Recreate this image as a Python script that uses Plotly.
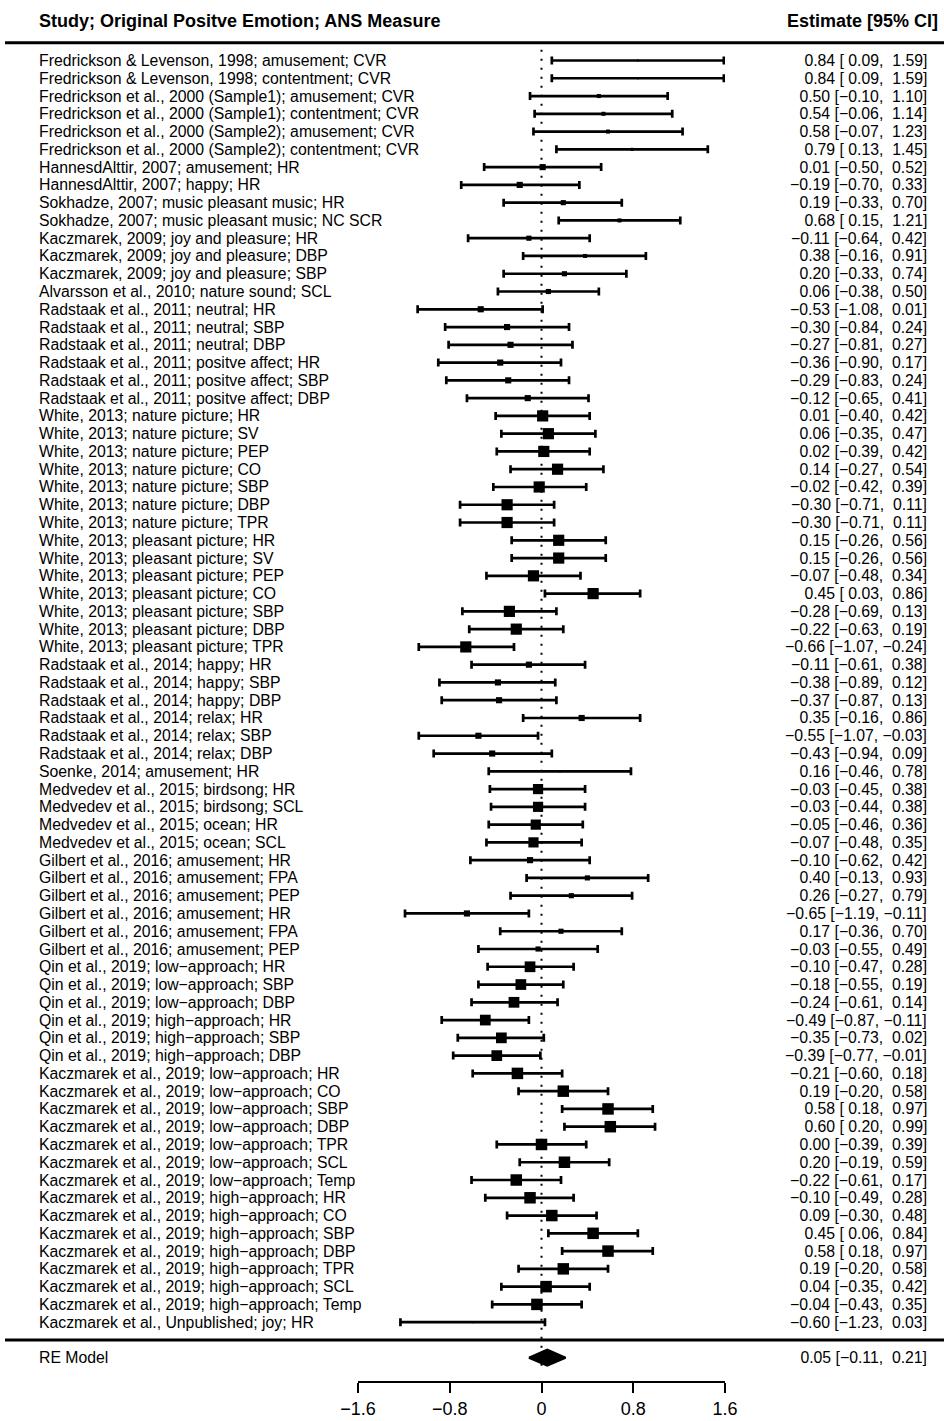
import plotly.graph_objects as go

# ---------------- data ----------------
studies = [
    "Fredrickson & Levenson, 1998; amusement; CVR",
    "Fredrickson & Levenson, 1998; contentment; CVR",
    "Fredrickson et al., 2000 (Sample1); amusement; CVR",
    "Fredrickson et al., 2000 (Sample1); contentment; CVR",
    "Fredrickson et al., 2000 (Sample2); amusement; CVR",
    "Fredrickson et al., 2000 (Sample2); contentment; CVR",
    "HannesdAlttir, 2007; amusement; HR",
    "HannesdAlttir, 2007; happy; HR",
    "Sokhadze, 2007; music pleasant music; HR",
    "Sokhadze, 2007; music pleasant music; NC SCR",
    "Kaczmarek, 2009; joy and pleasure; HR",
    "Kaczmarek, 2009; joy and pleasure; DBP",
    "Kaczmarek, 2009; joy and pleasure; SBP",
    "Alvarsson et al., 2010; nature sound; SCL",
    "Radstaak et al., 2011; neutral; HR",
    "Radstaak et al., 2011; neutral; SBP",
    "Radstaak et al., 2011; neutral; DBP",
    "Radstaak et al., 2011; positve affect; HR",
    "Radstaak et al., 2011; positve affect; SBP",
    "Radstaak et al., 2011; positve affect; DBP",
    "White, 2013; nature picture; HR",
    "White, 2013; nature picture; SV",
    "White, 2013; nature picture; PEP",
    "White, 2013; nature picture; CO",
    "White, 2013; nature picture; SBP",
    "White, 2013; nature picture; DBP",
    "White, 2013; nature picture; TPR",
    "White, 2013; pleasant picture; HR",
    "White, 2013; pleasant picture; SV",
    "White, 2013; pleasant picture; PEP",
    "White, 2013; pleasant picture; CO",
    "White, 2013; pleasant picture; SBP",
    "White, 2013; pleasant picture; DBP",
    "White, 2013; pleasant picture; TPR",
    "Radstaak et al., 2014; happy; HR",
    "Radstaak et al., 2014; happy; SBP",
    "Radstaak et al., 2014; happy; DBP",
    "Radstaak et al., 2014; relax; HR",
    "Radstaak et al., 2014; relax; SBP",
    "Radstaak et al., 2014; relax; DBP",
    "Soenke, 2014; amusement; HR",
    "Medvedev et al., 2015; birdsong; HR",
    "Medvedev et al., 2015; birdsong; SCL",
    "Medvedev et al., 2015; ocean; HR",
    "Medvedev et al., 2015; ocean; SCL",
    "Gilbert et al., 2016; amusement; HR",
    "Gilbert et al., 2016; amusement; FPA",
    "Gilbert et al., 2016; amusement; PEP",
    "Gilbert et al., 2016; amusement; HR",
    "Gilbert et al., 2016; amusement; FPA",
    "Gilbert et al., 2016; amusement; PEP",
    "Qin et al., 2019; low\u2212approach; HR",
    "Qin et al., 2019; low\u2212approach; SBP",
    "Qin et al., 2019; low\u2212approach; DBP",
    "Qin et al., 2019; high\u2212approach; HR",
    "Qin et al., 2019; high\u2212approach; SBP",
    "Qin et al., 2019; high\u2212approach; DBP",
    "Kaczmarek et al., 2019; low\u2212approach; HR",
    "Kaczmarek et al., 2019; low\u2212approach; CO",
    "Kaczmarek et al., 2019; low\u2212approach; SBP",
    "Kaczmarek et al., 2019; low\u2212approach; DBP",
    "Kaczmarek et al., 2019; low\u2212approach; TPR",
    "Kaczmarek et al., 2019; low\u2212approach; SCL",
    "Kaczmarek et al., 2019; low\u2212approach; Temp",
    "Kaczmarek et al., 2019; high\u2212approach; HR",
    "Kaczmarek et al., 2019; high\u2212approach; CO",
    "Kaczmarek et al., 2019; high\u2212approach; SBP",
    "Kaczmarek et al., 2019; high\u2212approach; DBP",
    "Kaczmarek et al., 2019; high\u2212approach; TPR",
    "Kaczmarek et al., 2019; high\u2212approach; SCL",
    "Kaczmarek et al., 2019; high\u2212approach; Temp",
    "Kaczmarek et al., Unpublished; joy; HR",
]

estimate = [
    0.84, 0.84, 0.50, 0.54, 0.58, 0.79, 0.01, -0.19, 0.19, 0.68,
    -0.11, 0.38, 0.20, 0.06, -0.53, -0.30, -0.27, -0.36, -0.29, -0.12,
    0.01, 0.06, 0.02, 0.14, -0.02, -0.30, -0.30, 0.15, 0.15, -0.07,
    0.45, -0.28, -0.22, -0.66, -0.11, -0.38, -0.37, 0.35, -0.55, -0.43,
    0.16, -0.03, -0.03, -0.05, -0.07, -0.10, 0.40, 0.26, -0.65, 0.17,
    -0.03, -0.10, -0.18, -0.24, -0.49, -0.35, -0.39, -0.21, 0.19, 0.58,
    0.60, 0.00, 0.20, -0.22, -0.10, 0.09, 0.45, 0.58, 0.19, 0.04,
    -0.04, -0.60,
]

ci_lower = [
    0.09, 0.09, -0.10, -0.06, -0.07, 0.13, -0.50, -0.70, -0.33, 0.15,
    -0.64, -0.16, -0.33, -0.38, -1.08, -0.84, -0.81, -0.90, -0.83, -0.65,
    -0.40, -0.35, -0.39, -0.27, -0.42, -0.71, -0.71, -0.26, -0.26, -0.48,
    0.03, -0.69, -0.63, -1.07, -0.61, -0.89, -0.87, -0.16, -1.07, -0.94,
    -0.46, -0.45, -0.44, -0.46, -0.48, -0.62, -0.13, -0.27, -1.19, -0.36,
    -0.55, -0.47, -0.55, -0.61, -0.87, -0.73, -0.77, -0.60, -0.20, 0.18,
    0.20, -0.39, -0.19, -0.61, -0.49, -0.30, 0.06, 0.18, -0.20, -0.35,
    -0.43, -1.23,
]

ci_upper = [
    1.59, 1.59, 1.10, 1.14, 1.23, 1.45, 0.52, 0.33, 0.70, 1.21,
    0.42, 0.91, 0.74, 0.50, 0.01, 0.24, 0.27, 0.17, 0.24, 0.41,
    0.42, 0.47, 0.42, 0.54, 0.39, 0.11, 0.11, 0.56, 0.56, 0.34,
    0.86, 0.13, 0.19, -0.24, 0.38, 0.12, 0.13, 0.86, -0.03, 0.09,
    0.78, 0.38, 0.38, 0.36, 0.35, 0.42, 0.93, 0.79, -0.11, 0.70,
    0.49, 0.28, 0.19, 0.14, -0.11, 0.02, -0.01, 0.18, 0.58, 0.97,
    0.99, 0.39, 0.59, 0.17, 0.28, 0.48, 0.84, 0.97, 0.58, 0.42,
    0.35, 0.03,
]

# relative study weights (%), estimated from square sizes
weight = [
    0.35, 0.35, 0.69, 0.69, 0.69, 0.52, 1.04, 1.04, 0.87, 0.69,
    0.87, 0.69, 0.87, 0.87, 1.04, 1.04, 1.04, 1.04, 1.04, 1.04,
    1.90, 1.90, 1.90, 1.90, 1.90, 1.90, 1.90, 1.90, 1.90, 1.90,
    1.90, 1.90, 1.90, 1.90, 1.04, 1.04, 1.04, 1.04, 1.04, 1.04,
    0.35, 1.73, 1.73, 1.73, 1.73, 1.04, 0.87, 0.87, 1.04, 0.87,
    0.87, 1.82, 1.82, 1.82, 1.82, 1.82, 1.82, 1.95, 1.95, 1.95,
    1.95, 1.95, 1.95, 1.95, 1.95, 1.95, 1.95, 1.95, 1.95, 1.95,
    1.95, 0.35,
]

re_label = "RE Model"
re_estimate = 0.05
re_lower = -0.11
re_upper = 0.21

x_ticks = [-1.6, -0.8, 0, 0.8, 1.6]
header_left = "Study; Original Positve Emotion; ANS Measure"
header_right = "Estimate [95% CI]"

# ---------------- layout helpers ----------------
W, H = 944, 1421
ML, MR, MT, MB = 358, 219, 0, 40
PW = W - ML - MR
ROW0_PX, ROW_PX = 60.5, 17.77


def k_of_px(p):
    return 1 + (p - ROW0_PX) / ROW_PX


def xpaper(px):
    return (px - ML) / PW


def fmt(v):
    s = f"{v:.2f}".replace("-", "\u2212")
    return "\u00a0" * (5 - len(s)) + s


def ci_text(e, lo, hi):
    return f"{fmt(e)}\u00a0[{fmt(lo)},\u00a0{fmt(hi)}]"


n = len(studies)
rows = list(range(1, n + 1))
re_row = n + 2
FONT = "Liberation Sans, Arial, Helvetica, sans-serif"
FS = 15.8      # row text
FS_HEAD = 18   # header text
FS_TICK = 18   # axis tick labels

fig = go.Figure()

# reference (dotted) line at 0
fig.add_trace(go.Scatter(
    x=[0, 0], y=[0.4, re_row + 0.85], mode="lines",
    line=dict(color="black", width=2, dash="2px,7px"),
    hoverinfo="skip", showlegend=False))

maxw = max(weight)
fig.add_trace(go.Scatter(
    x=estimate, y=rows, mode="markers",
    marker=dict(symbol="square", color="black", opacity=1,
                size=[11.5 * w / maxw for w in weight], line=dict(width=0)),
    error_x=dict(type="data", symmetric=False,
                 array=[h - e for h, e in zip(ci_upper, estimate)],
                 arrayminus=[e - l for e, l in zip(estimate, ci_lower)],
                 color="black", thickness=2.7, width=4),
    showlegend=False, cliponaxis=False))

# summary diamond
dh = 0.45
fig.add_trace(go.Scatter(
    x=[re_lower, re_estimate, re_upper, re_estimate, re_lower],
    y=[re_row, re_row - dh, re_row, re_row + dh, re_row],
    mode="lines", fill="toself", fillcolor="black",
    line=dict(color="black", width=2), showlegend=False))

ann = []
for r, s, e, lo, hi in zip(rows, studies, estimate, ci_lower, ci_upper):
    ann.append(dict(x=xpaper(38), y=r, xref="paper", yref="y", text=s,
                    xanchor="left", yanchor="middle", showarrow=False,
                    borderpad=0,
                    font=dict(family=FONT, size=FS, color="black")))
    ann.append(dict(x=xpaper(928), y=r, xref="paper", yref="y",
                    text=ci_text(e, lo, hi), borderpad=0,
                    xanchor="right", yanchor="middle", showarrow=False,
                    font=dict(family=FONT, size=FS, color="black")))

ann.append(dict(x=xpaper(38), y=re_row, xref="paper", yref="y", text=re_label,
                xanchor="left", yanchor="middle", showarrow=False, borderpad=0,
                font=dict(family=FONT, size=FS, color="black")))
ann.append(dict(x=xpaper(928), y=re_row, xref="paper", yref="y",
                text=ci_text(re_estimate, re_lower, re_upper), borderpad=0,
                xanchor="right", yanchor="middle", showarrow=False,
                font=dict(family=FONT, size=FS, color="black")))

hy = k_of_px(21)
ann.append(dict(x=xpaper(38), y=hy, xref="paper", yref="y",
                text=f"<b>{header_left}</b>", borderpad=0,
                xanchor="left", yanchor="middle", showarrow=False,
                font=dict(family=FONT, size=FS_HEAD, color="black")))
ann.append(dict(x=xpaper(939), y=hy, xref="paper", yref="y",
                text=f"<b>{header_right}</b>", borderpad=0,
                xanchor="right", yanchor="middle", showarrow=False,
                font=dict(family=FONT, size=FS_HEAD, color="black")))

shapes = [
    dict(type="line", xref="paper", yref="y", x0=xpaper(5), x1=xpaper(944),
         y0=0, y1=0, line=dict(color="black", width=3)),
    dict(type="line", xref="paper", yref="y", x0=xpaper(5), x1=xpaper(944),
         y0=n + 1, y1=n + 1, line=dict(color="black", width=3)),
]

fig.update_layout(
    width=W, height=H,
    margin=dict(l=ML, r=MR, t=MT, b=MB, pad=0),
    paper_bgcolor="white", plot_bgcolor="white",
    annotations=ann, shapes=shapes,
    xaxis=dict(range=[-1.6, 1.6], tickvals=x_ticks, ticks="outside",
               ticklen=10, tickwidth=2, tickcolor="black",
               showline=True, linewidth=2, linecolor="black",
               showgrid=False, zeroline=False, automargin=False,
               tickfont=dict(family=FONT, size=FS_TICK, color="black")),
    yaxis=dict(range=[k_of_px(H - MB), k_of_px(0)], visible=False,
               showgrid=False, zeroline=False, automargin=False),
    font=dict(family=FONT, size=FS, color="black"),
)

fig.write_html("out.html")
